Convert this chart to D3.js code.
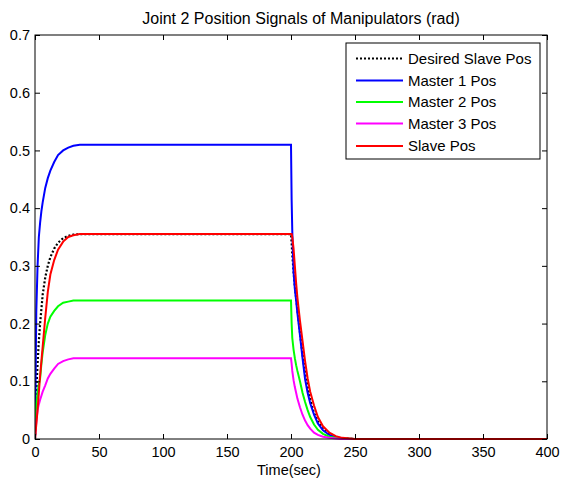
<!DOCTYPE html>
<html><head><meta charset="utf-8">
<script src="https://cdn.jsdelivr.net/npm/d3@7"></script>
<style>
body{margin:0;background:#fff;}
svg{display:block;font-family:"Liberation Sans",Arial,sans-serif;}
</style></head>
<body><svg id="c" width="561" height="482"></svg>
<script>
const time = [0,1,2,3,4,5,6,8,10,12,15,18,22,26,30,35,40,200,200.5,201,202,203,204,205,207,209,211,213,215,218,221,225,230,235,240,250,400];
const desiredSlave = [0,0.08,0.13,0.17,0.2,0.225,0.25,0.28,0.3,0.315,0.33,0.34,0.348,0.352,0.354,0.355,0.355,0.355,0.34,0.32,0.29,0.265,0.245,0.225,0.185,0.148,0.115,0.09,0.068,0.045,0.03,0.017,0.008,0.003,0.001,0,0];
const master1 = [0,0.22,0.30,0.35,0.375,0.395,0.41,0.435,0.452,0.465,0.48,0.492,0.50,0.505,0.508,0.51,0.51,0.51,0.414,0.36,0.29,0.26,0.24,0.218,0.18,0.14,0.104,0.08,0.062,0.042,0.027,0.015,0.007,0.003,0.001,0,0];
const master2 = [0,0.06,0.08,0.095,0.105,0.13,0.15,0.18,0.2,0.212,0.222,0.23,0.236,0.238,0.24,0.24,0.24,0.24,0.2,0.175,0.155,0.14,0.128,0.118,0.1,0.08,0.064,0.05,0.038,0.025,0.016,0.009,0.004,0.002,0.001,0,0];
const master3 = [0,0.03,0.05,0.06,0.068,0.075,0.082,0.093,0.105,0.113,0.122,0.13,0.135,0.138,0.14,0.14,0.14,0.14,0.13,0.118,0.102,0.09,0.08,0.07,0.055,0.042,0.032,0.024,0.018,0.011,0.007,0.004,0.002,0.001,0,0,0];
const slave = [0,0.025,0.05,0.08,0.11,0.135,0.16,0.21,0.255,0.285,0.31,0.328,0.342,0.35,0.353,0.355,0.355,0.355,0.355,0.35,0.33,0.3,0.27,0.245,0.205,0.17,0.135,0.105,0.082,0.058,0.038,0.022,0.011,0.005,0.002,0,0];
const seriesNames = ["Desired Slave Pos","Master 1 Pos","Master 2 Pos","Master 3 Pos","Slave Pos"];
const seriesColors = ["#000000","#0000ff","#00ff00","#ff00ff","#ff0000"];
const xTicks = [0,50,100,150,200,250,300,350,400];
const yTicks = [0,0.1,0.2,0.3,0.4,0.5,0.6,0.7];
const titleText = "Joint 2 Position Signals of Manipulators (rad)";
const xLabel = "Time(sec)";

const svg = d3.select("#c");
const L=35, R=547, T=35, B=439;
const x = d3.scaleLinear().domain([0,400]).range([L,R]);
const y = d3.scaleLinear().domain([0,0.7]).range([B,T]);

const series = [desiredSlave, master1, master2, master3, slave];
const line = d3.line().x((d,i)=>x(time[i])).y(d=>y(d));
const g = svg.append("g");
g.append("clipPath").attr("id","clip").append("rect").attr("x",L).attr("y",T).attr("width",R-L).attr("height",B-T+2);
series.forEach((s,k)=>{
  g.append("path").datum(s).attr("d",line).attr("fill","none")
   .attr("stroke",seriesColors[k]).attr("stroke-width", k===0?2.2:2)
   .attr("stroke-dasharray", k===0?"2,2":null)
   .attr("clip-path","url(#clip)");
});

svg.append("rect").attr("x",L).attr("y",T).attr("width",R-L).attr("height",B-T).attr("fill","none").attr("stroke","#000").attr("stroke-width",1);

const ax = svg.append("g").attr("transform",`translate(0,${B})`)
  .call(d3.axisBottom(x).tickValues(xTicks).tickSize(-5).tickPadding(8).tickFormat(d3.format("d")));
const axT = svg.append("g").attr("transform",`translate(0,${T})`)
  .call(d3.axisTop(x).tickValues(xTicks).tickSize(-5).tickFormat(""));
const ay = svg.append("g").attr("transform",`translate(${L},0)`)
  .call(d3.axisLeft(y).tickValues(yTicks).tickSize(-5).tickPadding(5).tickFormat(d=>d===0?"0":d3.format(".1f")(d)));
const ayR = svg.append("g").attr("transform",`translate(${R},0)`)
  .call(d3.axisRight(y).tickValues(yTicks).tickSize(-5).tickFormat(""));
[ax,axT,ay,ayR].forEach(a=>{
  a.select(".domain").remove();
  a.selectAll("line").attr("stroke","#000");
  a.selectAll("text").attr("font-size","14.5px").attr("fill","#000").attr("font-family","Liberation Sans, Arial, sans-serif");
});

svg.append("text").attr("x",(L+R)/2+10).attr("y",24).attr("text-anchor","middle").attr("font-size","16px").text(titleText);
svg.append("text").attr("x",(L+R)/2-2).attr("y",475).attr("text-anchor","middle").attr("font-size","14.5px").text(xLabel);

const lg = svg.append("g");
lg.append("rect").attr("x",346).attr("y",43).attr("width",194).attr("height",116).attr("fill","#fff").attr("stroke","#000");
const ly = [58.5,80.5,102,123.5,146];
seriesNames.forEach((n,k)=>{
  lg.append("line").attr("x1",356).attr("x2",403).attr("y1",ly[k]).attr("y2",ly[k])
    .attr("stroke",seriesColors[k]).attr("stroke-width",k===0?2.2:2).attr("stroke-dasharray",k===0?"2,2":null);
  lg.append("text").attr("x",408).attr("y",ly[k]+5).attr("font-size","15px").text(n);
});
</script></body></html>
